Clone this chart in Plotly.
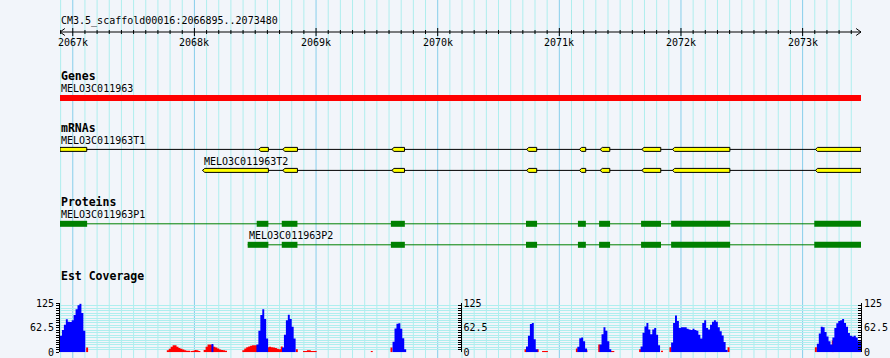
import plotly.graph_objects as go

# ---------------- data ----------------
REGION = "CM3.5_scaffold00016"
START, END = 2066895, 2073480

ruler_ticks = [2067000, 2068000, 2069000, 2070000, 2071000, 2072000, 2073000]
ruler_labels = ["2067k", "2068k", "2069k", "2070k", "2071k", "2072k", "2073k"]
RULER_MINOR_STEP = 100

gene_name = "MELO3C011963"
gene_span = [2066895, 2073480]

mrna_names = ["MELO3C011963T1", "MELO3C011963T2"]
t1_exons = [(2066895, 2067115), (2068528, 2068608), (2068726, 2068847), (2069623, 2069727),
            (2070731, 2070814), (2071165, 2071217), (2071335, 2071415), (2071678, 2071834),
            (2071930, 2072402), (2073105, 2073480)]
t2_exons = [(2068067, 2068608), (2068726, 2068847), (2069623, 2069727),
            (2070731, 2070814), (2071165, 2071217), (2071335, 2071415), (2071678, 2071834),
            (2071930, 2072402), (2073105, 2073480)]

protein_names = ["MELO3C011963P1", "MELO3C011963P2"]
p1_cds = [(2066895, 2067118), (2068512, 2068608), (2068718, 2068847), (2069615, 2069730),
          (2070726, 2070817), (2071153, 2071218), (2071327, 2071417), (2071672, 2071836),
          (2071919, 2072404), (2073096, 2073480)]
p2_cds = [(2068438, 2068608), (2068718, 2068847), (2069615, 2069730),
          (2070726, 2070817), (2071153, 2071218), (2071327, 2071417), (2071672, 2071836),
          (2071919, 2072404), (2073096, 2073480)]

BIN = 16  # bp per coverage bin
est_blue_starts = [2066895, 2068140, 2068510, 2068720, 2069629, 2070726, 2071148,
                   2071331, 2071668, 2071919, 2073117, 2073245]
est_blue_values = [
    [42, 57, 70, 84, 78, 77, 82, 95, 110, 120, 124, 100, 55],
    [21],
    [20, 55, 95, 110, 85, 35],
    [12, 45, 82, 96, 85, 65, 35],
    [27, 61, 73, 74, 60, 36, 8],
    [15, 42, 72, 75, 33, 8],
    [14, 36, 38, 28, 10],
    [20, 46, 64, 55, 28, 8],
    [15, 50, 66, 75, 58, 46, 58, 62, 45, 18],
    [25, 75, 94, 80, 62, 64, 64, 64, 60, 58, 57, 60, 57, 55, 45, 35, 75, 82, 62, 58,
     70, 78, 82, 78, 64, 54, 43, 26, 6],
    [22, 48, 65, 64, 52, 40, 28, 20],
    [38, 62, 74, 80, 82, 85, 75, 65, 49, 42, 40, 42, 38, 28, 28],
]
est_red_starts = [2067110, 2067773, 2067969, 2068076, 2068394, 2068598, 2068834, 2068893,
                  2069450, 2069612, 2070714, 2070814, 2070858, 2071136, 2071215, 2071320,
                  2071420, 2071656, 2071836, 2071905, 2072383, 2073101, 2073240]
est_red_values = [
    [12],
    [5, 9, 14, 18, 18, 14, 11, 9, 7, 5, 4, 4],
    [3, 4, 6, 5, 3],
    [6, 14, 20, 20, 18, 14, 12, 10, 7, 6, 5, 4],
    [5, 10, 13, 15, 17, 18, 18, 18],
    [13, 14, 13, 12, 11, 9, 8, 15],
    [8],
    [3, 3, 5, 5, 3, 3, 3],
    [3],
    [12],
    [8],
    [8],
    [3, 3, 3],
    [10],
    [5],
    [20],
    [3, 3],
    [8],
    [4],
    [13],
    [13],
    [13],
    [30],
]
COV_MAX = 125
COV_STEP = 6.25
cov_major = [0, 62.5, 125]

# ---------------- style ----------------
W, H = 890, 358
BG = "#F2F5FA"
GRID_MINOR = "#AFEEEE"
GRID_MAJOR = "#87CEEB"
MONO = "DejaVu Sans Mono"

# track layout (pixel rows)
Y_TITLE = 21
Y_GENES_T, Y_GENE_LBL, Y_GENE_BAR = 76, 88, 98
Y_MRNA_T = 128
Y_MRNA_LBL = [140.5, 161]
Y_MRNA = [149.4, 170.4]
Y_PROT_T = 202
Y_PROT_LBL = [214, 235.5]
Y_PROT = [223.8, 244.8]
Y_EST_T = 276
COV_TOP, COV_BOT = 303.3, 352.3
RULER_Y = 32
Y_RULER_LBL = 42.5

fig = go.Figure()


def step_xy(starts, values):
    """Histogram outline: each bin holds its value, each run drops back to zero at its end."""
    xs, ys = [], []
    for s, vals in zip(starts, values):
        for i, v in enumerate(vals):
            xs.append(s + i * BIN)
            ys.append(v)
        xs.append(s + len(vals) * BIN)
        ys.append(0)
    return xs, ys


rx, ry = step_xy(est_red_starts, est_red_values)
bx, by = step_xy(est_blue_starts, est_blue_values)
fig.add_trace(go.Scatter(x=rx, y=ry, mode="lines", line=dict(width=0, shape="hv"), fill="tozeroy",
                         fillcolor="#FF0000", xaxis="x", yaxis="y2", showlegend=False, hoverinfo="skip"))
fig.add_trace(go.Scatter(x=bx, y=by, mode="lines", line=dict(width=0, shape="hv"), fill="tozeroy",
                         fillcolor="#0000FF", xaxis="x", yaxis="y2", showlegend=False, hoverinfo="skip"))
inv = dict(mode="markers", marker=dict(opacity=0, size=1), showlegend=False, hoverinfo="skip")
fig.add_trace(go.Scatter(x=[START], y=[0], xaxis="x", yaxis="y", **inv))
fig.add_trace(go.Scatter(x=[START], y=[0], xaxis="x", yaxis="y3", **inv))
fig.add_trace(go.Scatter(x=[START], y=[0], xaxis="x", yaxis="y4", **inv))

shapes = []
annotations = []


def text(x, y, s, bold=False, xref="x", size=10, xanchor="left"):
    annotations.append(dict(x=x, y=y, xref=xref, yref="y", text=("<b>%s</b>" % s) if bold else s,
                            showarrow=False, xanchor=xanchor, yanchor="middle",
                            font=dict(family=MONO, size=size, color="black"), borderpad=0))


# vertical grid (every 100 bp, darker every kb) and ruler ticks
first = (START // RULER_MINOR_STEP + 1) * RULER_MINOR_STEP
pos = first
while pos <= END:
    major = pos in ruler_ticks
    shapes.append(dict(type="line", xref="x", yref="paper", x0=pos, x1=pos, y0=0, y1=1, layer="below",
                       line=dict(color=GRID_MAJOR if major else GRID_MINOR, width=1)))
    tl = 4 if major else 2
    shapes.append(dict(type="line", xref="x", yref="y", x0=pos, x1=pos, y0=RULER_Y - tl, y1=RULER_Y + tl,
                       line=dict(color="black", width=1)))
    pos += RULER_MINOR_STEP

# ruler line, arrows, labels
AR = 40
shapes.append(dict(type="line", xref="x", yref="y", x0=START, x1=END, y0=RULER_Y, y1=RULER_Y,
                   line=dict(color="black", width=1)))
shapes.append(dict(type="path", xref="x", yref="y",
                   path="M %f,%f L %f,%f L %f,%f" % (START + AR, RULER_Y - 3.5, START, RULER_Y, START + AR, RULER_Y + 3.5),
                   line=dict(color="black", width=1)))
shapes.append(dict(type="path", xref="x", yref="y",
                   path="M %f,%f L %f,%f L %f,%f" % (END - AR, RULER_Y - 3.5, END, RULER_Y, END - AR, RULER_Y + 3.5),
                   line=dict(color="black", width=1)))
for t, lab in zip(ruler_ticks, ruler_labels):
    text(t, Y_RULER_LBL, lab, xanchor="center")

# title
text(0, Y_TITLE, "%s:%d..%d" % (REGION, START, END), xref="paper")

# genes
text(0, Y_GENES_T, "Genes", bold=True, xref="paper", size=11.5)
text(gene_span[0], Y_GENE_LBL, gene_name)
shapes.append(dict(type="rect", xref="x", yref="y", x0=gene_span[0], x1=gene_span[1],
                   y0=Y_GENE_BAR - 3, y1=Y_GENE_BAR + 3, fillcolor="#FF0000", line=dict(width=0)))

# mRNAs
text(0, Y_MRNA_T, "mRNAs", bold=True, xref="paper", size=11.5)
NOTCH = 18
for name, exons, yl, yc in zip(mrna_names, [t1_exons, t2_exons], Y_MRNA_LBL, Y_MRNA):
    text(exons[0][0], yl, name)
    shapes.append(dict(type="line", xref="x", yref="y", x0=exons[0][0], x1=exons[-1][1], y0=yc, y1=yc,
                       line=dict(color="black", width=1)))
    for s, e in exons:
        top, bot = yc - 2, yc + 2
        if s > START:
            p = "M %f,%f L %f,%f L %f,%f L %f,%f L %f,%f Z" % (s + NOTCH, top, e, top, e, bot, s + NOTCH, bot, s, yc)
        else:
            p = "M %f,%f L %f,%f L %f,%f L %f,%f Z" % (s, top, e, top, e, bot, s, bot)
        shapes.append(dict(type="path", xref="x", yref="y", path=p, fillcolor="#FFFF00",
                           line=dict(color="black", width=1)))

# proteins
text(0, Y_PROT_T, "Proteins", bold=True, xref="paper", size=11.5)
for name, cds, yl, yc in zip(protein_names, [p1_cds, p2_cds], Y_PROT_LBL, Y_PROT):
    text(cds[0][0], yl, name)
    shapes.append(dict(type="line", xref="x", yref="y", x0=cds[0][0], x1=cds[-1][1], y0=yc, y1=yc,
                       line=dict(color="#008000", width=1)))
    for s, e in cds:
        shapes.append(dict(type="rect", xref="x", yref="y", x0=s, x1=e, y0=yc - 3, y1=yc + 3,
                           fillcolor="#008000", line=dict(width=0)))

# EST coverage title
text(0, Y_EST_T, "Est Coverage", bold=True, xref="paper", size=11.5)

d0 = (H - COV_BOT) / H
d1 = (H - COV_TOP) / H
tickfont = dict(family=MONO, size=10, color="black")
n_cov = int(round(COV_MAX / COV_STEP))
cov_vals = [i * COV_STEP for i in range(n_cov + 1)]
cov_text = [(("%g" % v) if v in cov_major else "") for v in cov_vals]

common_y = dict(range=[0, COV_MAX], domain=[d0, d1], tickmode="array", tickvals=cov_vals, ticktext=cov_text,
                tickfont=tickfont, zeroline=False, tickcolor="black", ticklen=3,
                showline=True, linecolor="black", linewidth=1, fixedrange=True, automargin=False)

fig.update_layout(
    width=W, height=H, autosize=False,
    margin=dict(l=60, r=29, t=0, b=0, pad=0),
    paper_bgcolor=BG, plot_bgcolor="rgba(0,0,0,0)",
    showlegend=False,
    shapes=shapes, annotations=annotations,
    xaxis=dict(range=[START, END], domain=[0, 1], anchor="y", visible=False, fixedrange=True,
               automargin=False),
    yaxis=dict(range=[H, 0], domain=[0, 1], anchor="x", visible=False, fixedrange=True, automargin=False),
    yaxis2=dict(anchor="x", side="left", ticks="outside", showgrid=True, gridcolor=GRID_MINOR, gridwidth=1,
                **common_y),
    yaxis3=dict(overlaying="y2", anchor="free", position=0.5, side="right", ticks="inside",
                showgrid=False, **common_y),
    yaxis4=dict(overlaying="y2", anchor="free", position=1.0, side="right", ticks="inside",
                showgrid=False, **common_y),
)

fig.write_html("out.html", config={"displayModeBar": False})

# remove the browser's default page margin so the figure fills the window exactly
with open("out.html", encoding="utf-8") as f:
    html = f.read()
html = html.replace("<head>", "<head><style>html,body{margin:0;padding:0;overflow:hidden;}</style>", 1)
with open("out.html", "w", encoding="utf-8") as f:
    f.write(html)
